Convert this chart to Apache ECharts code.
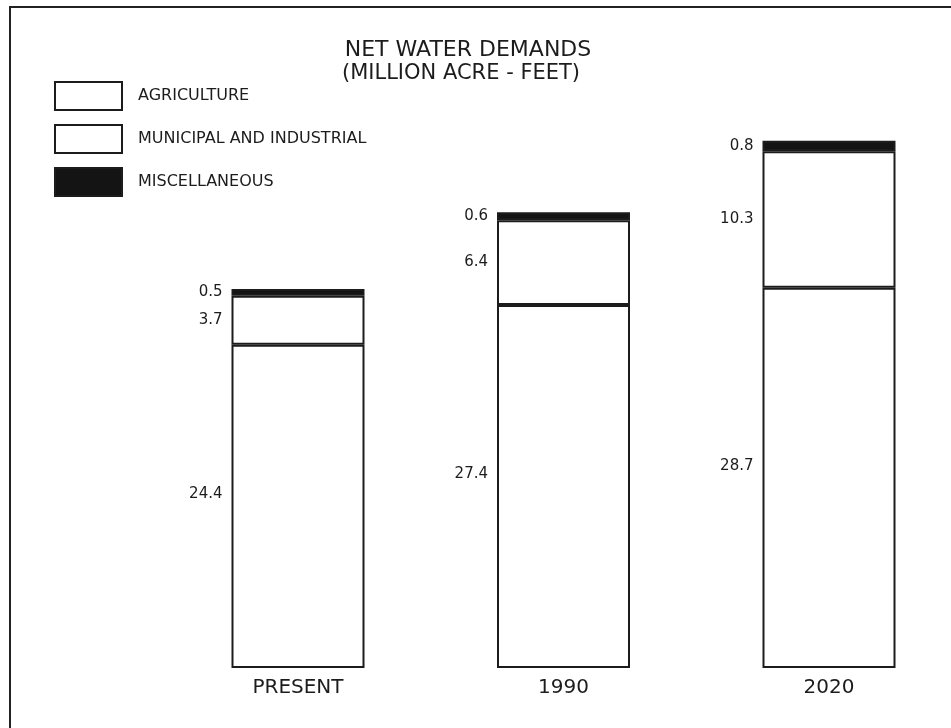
<!DOCTYPE html>
<html>
<head>
<meta charset="utf-8">
<script src="https://cdn.jsdelivr.net/npm/echarts@6/dist/echarts.min.js"></script>
<style>
html,body{margin:0;padding:0;background:#fff;}
#chart{width:951px;height:728px;}
</style>
</head>
<body>
<div id="chart"></div>
<script>
const categories = ['PRESENT', '1990', '2020'];
const agriculture = [24.4, 27.4, 28.7];
const municipal = [3.7, 6.4, 10.3];
const miscellaneous = [0.5, 0.6, 0.8];
const seriesNames = ['AGRICULTURE', 'MUNICIPAL AND INDUSTRIAL', 'MISCELLANEOUS'];
const titleText = 'NET WATER DEMANDS';
const subtitleText = '(MILLION ACRE - FEET)';

const FONT = 'DejaVu Sans';
const INK = '#1c1c1c';

const chart = echarts.init(document.getElementById('chart'), null, {renderer: 'canvas'});

function labelCfg(offsetY) {
  return {
    show: true,
    position: 'left',
    distance: 9,
    offset: [0, offsetY],
    color: INK,
    fontFamily: FONT,
    fontSize: 15,
    formatter: p => p.value.toFixed(1)
  };
}

const option = {
  backgroundColor: '#ffffff',
  animation: false,
  title: [
    {text: titleText, left: 468, top: 39, textAlign: 'center', padding: 0,
     textStyle: {fontFamily: FONT, fontSize: 22, fontWeight: 'normal', color: INK}},
    {text: subtitleText, left: 461, top: 63, textAlign: 'center', padding: 0,
     textStyle: {fontFamily: FONT, fontSize: 21, fontWeight: 'normal', color: INK}}
  ],
  legend: {
    orient: 'vertical',
    left: 54,
    top: 81,
    padding: 0,
    itemWidth: 67,
    itemHeight: 28,
    itemGap: 13,
    icon: 'rect',
    selectedMode: false,
    data: seriesNames,
    textStyle: {fontFamily: FONT, fontSize: 16, color: INK, padding: [0, 0, 0, 11]},
    itemStyle: {borderColor: INK, borderWidth: 2}
  },
  grid: {left: 298, width: 531, top: 138, bottom: 60, containLabel: false},
  xAxis: {
    type: 'category',
    data: categories,
    boundaryGap: false,
    axisLine: {show: false},
    axisTick: {show: false},
    axisLabel: {color: INK, fontFamily: FONT, fontSize: 20, margin: 10}
  },
  yAxis: {
    type: 'value',
    min: 0,
    max: 40,
    show: false,
    splitLine: {show: false}
  },
  series: [
    {
      name: seriesNames[0], type: 'bar', stack: 'total', data: agriculture,
      barWidth: 133,
      itemStyle: {color: '#ffffff', borderColor: INK, borderWidth: 2},
      label: labelCfg(-12)
    },
    {
      name: seriesNames[1], type: 'bar', stack: 'total', data: municipal,
      barWidth: 133,
      itemStyle: {color: '#ffffff', borderColor: INK, borderWidth: 2},
      label: labelCfg(0)
    },
    {
      name: seriesNames[2], type: 'bar', stack: 'total', data: miscellaneous,
      barWidth: 133,
      itemStyle: {color: '#141414', borderColor: INK, borderWidth: 2},
      label: labelCfg(0)
    }
  ],
  graphic: [
    {
      type: 'polyline',
      silent: true,
      shape: {points: [[10, 728], [10, 7], [951, 7]]},
      style: {stroke: '#222', lineWidth: 2, fill: null}
    }
  ]
};

chart.setOption(option);
</script>
</body>
</html>
